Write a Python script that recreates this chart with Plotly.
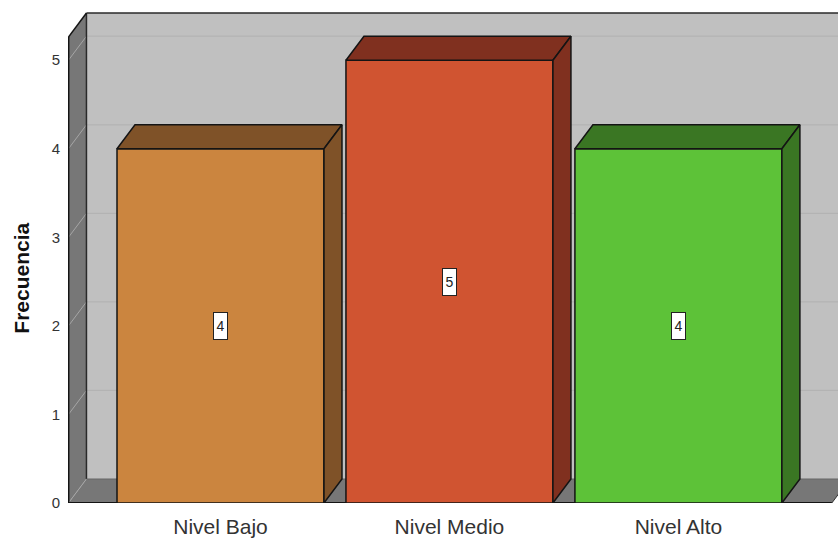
import plotly.graph_objects as go

# Bar chart data
categories = ["Nivel Bajo", "Nivel Medio", "Nivel Alto"]
frequencies = [4, 5, 4]
y_ticks = [0, 1, 2, 3, 4, 5]

# Face colours for each bar
front_colors = ["#CB853F", "#D05431", "#5DC238"]
depth_colors = ["#7F5228", "#80301F", "#3A7623"]

WALL = "#777777"
BACK = "#C0C0C0"
OUTLINE = "#141414"
FONT = "Liberation Sans"

# Extruded look: depth offset and bar half width, in axis units
DX = 0.0786
DY = 0.271
HALF = 0.452
X_MIN, X_MAX = -0.666, 2.697
Y_TOP = 5.68
WALL_TOP = 5.262
FLOOR_END = 2.67

positions = list(range(len(categories)))
fig = go.Figure()


def box(x0, y0, x1, y1, **kw):
    return dict(type="rect", x0=x0, y0=y0, x1=x1, y1=y1, layer="below", **kw)


def seg(x0, y0, x1, y1, color, width):
    return dict(type="line", x0=x0, y0=y0, x1=x1, y1=y1, layer="below",
                line=dict(color=color, width=width))


def path(points, fill):
    d = "M " + " L ".join(f"{x},{y}" for x, y in points) + " Z"
    return dict(type="path", path=d, layer="below", fillcolor=fill,
                line=dict(width=0))


left = X_MIN + 0.002
shapes = [
    # Back wall
    box(left + DX, DY, X_MAX + 0.01, WALL_TOP + DY, fillcolor=BACK, line=dict(width=0)),
    # Left wall and floor
    path([(left, 0), (left + DX, DY), (left + DX, WALL_TOP + DY), (left, WALL_TOP)], WALL),
    path([(left, 0), (FLOOR_END, 0), (FLOOR_END + DX, DY), (left + DX, DY)], WALL),
]
# Grid lines across the back wall, and their slanted run on the left wall
for t in y_ticks:
    if t > 0:
        shapes.append(seg(left + DX, t + DY, X_MAX + 0.01, t + DY, "#B3B3B3", 1.2))
    shapes.append(seg(left, t, left + DX, t + DY, "#A6A6A6", 1))
shapes += [
    seg(left + DX, WALL_TOP + DY, X_MAX + 0.01, WALL_TOP + DY, "#2A2A2A", 1.5),
    seg(left + DX, DY, left + DX, WALL_TOP + DY, "#2A2A2A", 1.5),
    seg(left, WALL_TOP, left + DX, WALL_TOP + DY, "#141414", 1.5),
    seg(left, 0, left, WALL_TOP, "#141414", 2),
    seg(left + DX, DY, X_MAX + 0.01, DY, "#666666", 1.2),
    seg(FLOOR_END, 0, FLOOR_END + DX, DY, "#333333", 1),
    seg(left, 0, FLOOR_END, 0, "#141414", 2),
]

# Front faces
fig.add_trace(go.Bar(
    x=positions, y=frequencies, width=HALF * 2,
    marker=dict(color=front_colors, line=dict(color=OUTLINE, width=1.5)),
    hoverinfo="skip", showlegend=False,
))

# Top and right faces derived from each bar's value
for p, v, c in zip(positions, frequencies, depth_colors):
    xl, xr = p - HALF, p + HALF
    fig.add_trace(go.Scatter(
        x=[xl, xr, xr + DX, xl + DX, xl], y=[v, v, v + DY, v + DY, v],
        mode="lines", fill="toself", fillcolor=c,
        line=dict(color=OUTLINE, width=1.5), hoverinfo="skip", showlegend=False,
    ))
    fig.add_trace(go.Scatter(
        x=[xr, xr + DX, xr + DX, xr, xr], y=[0, DY, v + DY, v, 0],
        mode="lines", fill="toself", fillcolor=c,
        line=dict(color=OUTLINE, width=1.5), hoverinfo="skip", showlegend=False,
    ))

# Value labels centred on the front faces
annotations = [
    dict(x=p, y=v / 2, text=str(v), showarrow=False, width=11, height=24,
         bgcolor="white", bordercolor="#222222", borderwidth=1, borderpad=1,
         font=dict(family=FONT, size=14, color="#222222"))
    for p, v in zip(positions, frequencies)
]

# Vertical axis title, centred lower than the plot's midpoint
annotations.append(dict(
    text="<b>Frecuencia</b>", textangle=-90, showarrow=False,
    xref="paper", yref="paper", x=-0.0605, y=0.4468,
    xanchor="center", yanchor="middle",
    font=dict(family=FONT, size=21, color="#111111"),
))

fig.update_layout(
    width=838, height=538,
    margin=dict(l=68, r=0, t=0, b=35),
    paper_bgcolor="white", plot_bgcolor="white",
    shapes=shapes, annotations=annotations, showlegend=False,
    font=dict(family=FONT, color="#333333"),
    xaxis=dict(
        range=[X_MIN, X_MAX], tickvals=positions, ticktext=categories,
        showgrid=False, zeroline=False, showline=False, ticks="",
        tickfont=dict(family=FONT, size=21, color="#333333"), ticklabelstandoff=9,
    ),
    yaxis=dict(
        range=[0, Y_TOP], tickvals=y_ticks, showgrid=False, zeroline=False,
        showline=False, ticks="", ticklabelstandoff=7,
        tickfont=dict(family=FONT, size=15, color="#333333"),
    ),
)

fig.write_html("out.html", config=dict(displayModeBar=False))
